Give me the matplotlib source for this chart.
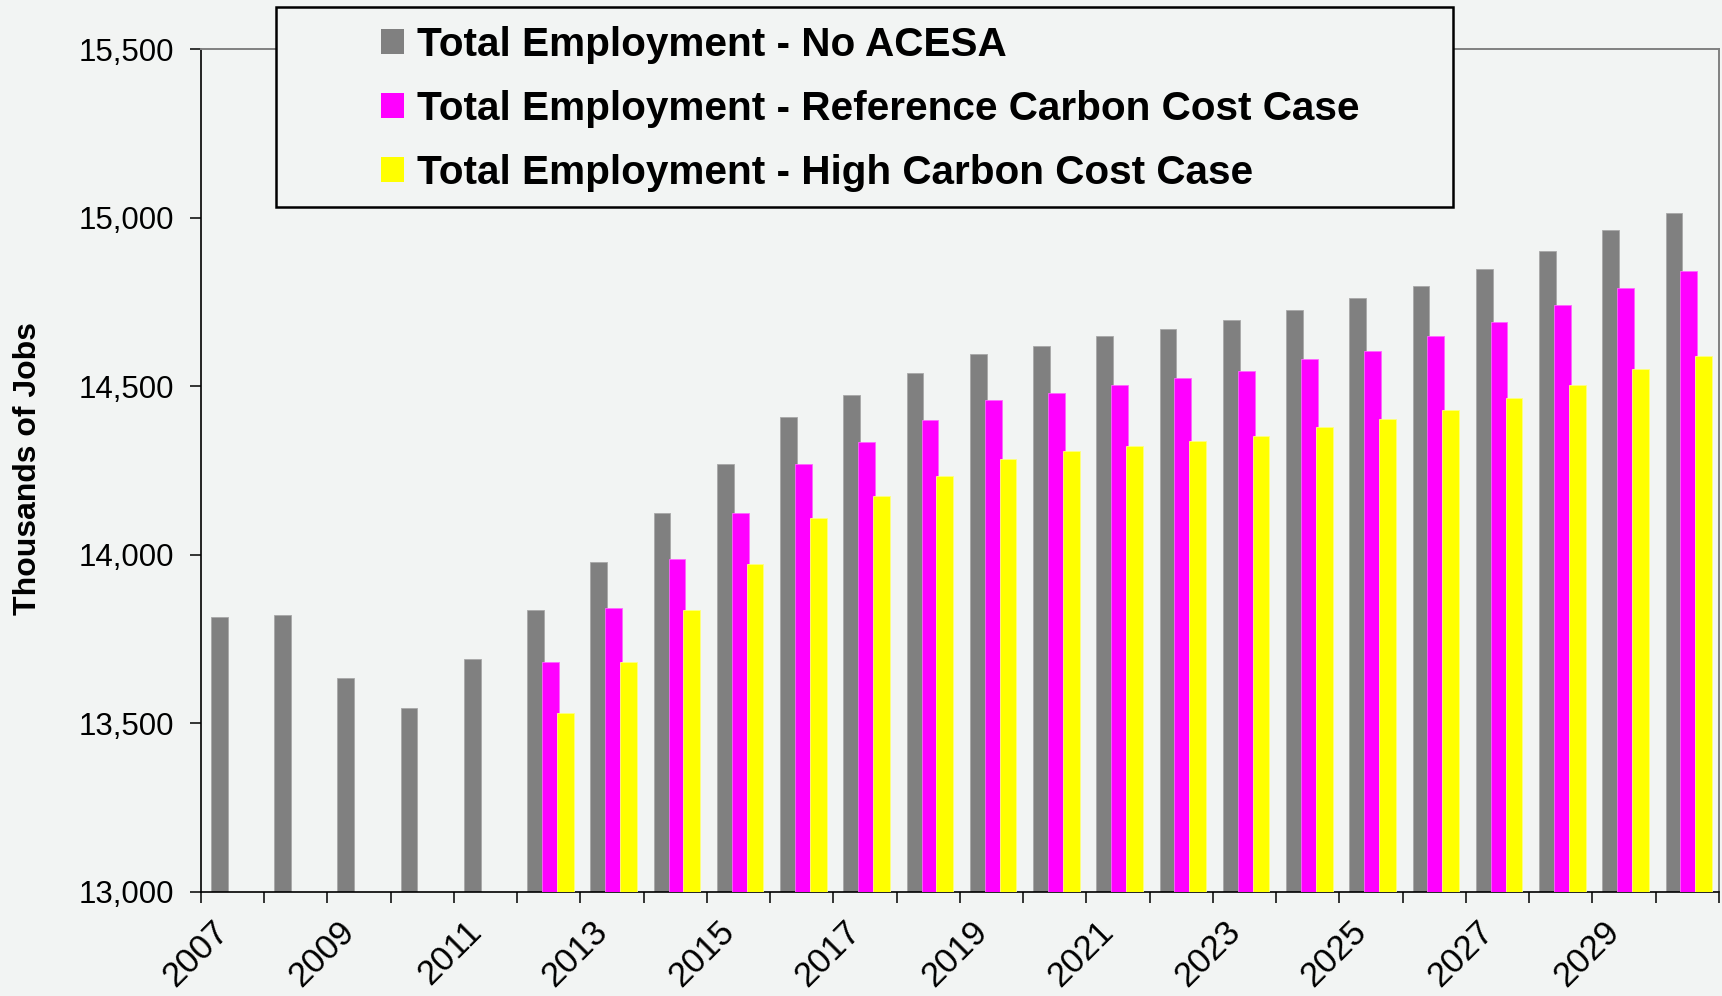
import numpy as np
import matplotlib
matplotlib.use("Agg")
import matplotlib.pyplot as plt
from matplotlib.patches import Rectangle, Patch
from matplotlib.ticker import FuncFormatter

plt.rcParams["font.family"] = ["Liberation Sans", "DejaVu Sans"]

# Employment projections, thousands of jobs
years = list(range(2007, 2031))
no_acesa = [13814, 13821, 13633, 13545, 13690, 13836, 13980, 14125, 14270, 14408,
            14473, 14539, 14597, 14619, 14648, 14669, 14698, 14727, 14763, 14799,
            14849, 14901, 14965, 15015]
policy_years = list(range(2012, 2031))
reference_case = [13683, 13842, 13987, 14125, 14270, 14335, 14401, 14458, 14481, 14503,
                  14524, 14546, 14582, 14604, 14648, 14690, 14740, 14792, 14843]
high_case = [13531, 13683, 13835, 13973, 14110, 14175, 14233, 14285, 14307, 14322,
             14337, 14352, 14379, 14402, 14430, 14466, 14503, 14552, 14589]
series_labels = ["Total Employment - No ACESA",
                 "Total Employment - Reference Carbon Cost Case",
                 "Total Employment - High Carbon Cost Case"]
y_ticks = [13000, 13500, 14000, 14500, 15000, 15500]
labelled_years = years[::2]

BG = "#F2F4F3"
GREY, MAGENTA, YELLOW = "#808080", "#FF00FF", "#FFFF00"

fig = plt.figure(figsize=(17.22, 9.96), dpi=100, facecolor=BG)
ax = fig.add_axes([0.1167, 0.1047, 0.8815, 0.8457])
ax.set_facecolor(BG)

x_all = np.arange(len(years))
x_pol = np.array([years.index(y) for y in policy_years])
w = 0.265
ax.bar(x_all - 0.21, no_acesa, width=w, color=GREY, edgecolor="#A8A8A8", linewidth=0.6, zorder=2)
ax.bar(x_pol + 0.025, reference_case, width=w, color=MAGENTA, edgecolor="#FF66FF", linewidth=0.6, zorder=3)
ax.bar(x_pol + 0.26, high_case, width=w, color=YELLOW, edgecolor="#FFFF80", linewidth=0.6, zorder=4)

ax.set_xlim(-0.5, len(years) - 0.5)
ax.set_ylim(y_ticks[0], y_ticks[-1])
ax.set_yticks(y_ticks)
ax.yaxis.set_major_formatter(FuncFormatter(lambda v, p: f"{int(v):,}"))
ax.tick_params(axis="y", direction="out", length=8, width=1.1, pad=11,
               labelsize=22.5, colors="black")

# category boundary ticks, year labels set just left of category centres
ax.set_xticks(np.arange(-0.5, len(years), 1.0))
ax.set_xticklabels([])
ax.tick_params(axis="x", which="major", direction="out", length=8, width=1.1)
ax.set_xticks(x_all - 0.15, minor=True)
ax.set_xticklabels([str(y) if y in labelled_years else "" for y in years], minor=True)
ax.tick_params(axis="x", which="minor", length=0, pad=25, labelsize=25)
for lbl in ax.get_xticklabels(minor=True):
    lbl.set_rotation(45)
    lbl.set_ha("right")
    lbl.set_va("center")
    lbl.set_rotation_mode("anchor")

for side in ("left", "bottom"):
    ax.spines[side].set_color("black")
    ax.spines[side].set_linewidth(1.2)
for side in ("top", "right"):
    ax.spines[side].set_color("#808080")
    ax.spines[side].set_linewidth(1.4)

fig.text(28 / 1722, 1 - 468 / 996, "Thousands of Jobs", rotation=90,
         ha="center", va="center", fontsize=23, fontweight="bold")

# legend box
fig.patches.append(Rectangle((0.16005, 0.79267), 0.68374, 0.2007,
                             transform=fig.transFigure, facecolor=BG,
                             edgecolor="black", linewidth=1.8, zorder=5))
handles = [Patch(facecolor=c, edgecolor="none") for c in (GREY, MAGENTA, YELLOW)]
leg = fig.legend(handles, series_labels, loc="upper left",
                 bbox_to_anchor=(381 / 1722, 1 - 26 / 996),
                 frameon=False, borderpad=0, borderaxespad=0,
                 handlelength=0.57, handleheight=0.57, handletextpad=0.32,
                 labelspacing=0.64, prop={"size": 29.2, "weight": "bold"})
leg.set_zorder(6)

fig.savefig("out.png", dpi=100, facecolor=BG)
